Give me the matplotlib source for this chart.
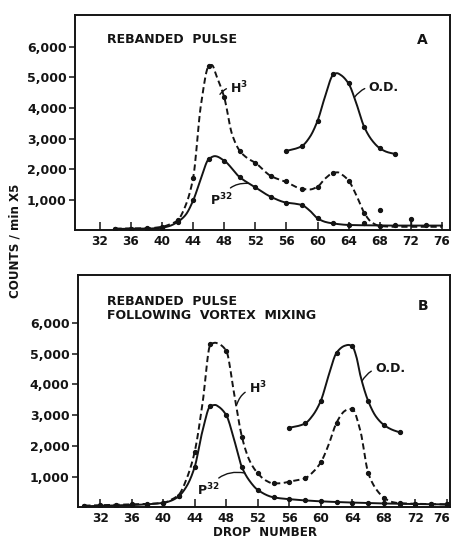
import numpy as np
import matplotlib
matplotlib.use("Agg")
import matplotlib.pyplot as plt
import matplotlib.transforms as mtransforms

plt.rcParams['font.family'] = ['DejaVu Sans']
plt.rcParams['font.weight'] = 'bold'
plt.rcParams['mathtext.default'] = 'bf'

INK = '#141414'

# ---- panel A: rebanded pulse ----
a_drops = [34, 36, 38, 40, 42, 44, 46, 48, 50, 52, 54, 56, 58, 60, 62, 64, 66]
a_h3 = [60, 60, 70, 120, 330, 1720, 5370, 4350, 2600, 2210, 1780, 1610, 1350, 1430, 1890, 1630, 580]
a_p32_drops = [34, 36, 38, 40, 42, 44, 46, 48, 50, 52, 54, 56, 58, 60, 62, 64, 66, 68, 70, 74]
a_p32 = [50, 50, 60, 90, 280, 980, 2330, 2280, 1740, 1410, 1100, 910, 830, 400, 230, 180, 230, 160, 170, 190]
a_od_drops = [56, 58, 60, 62, 64, 66, 68, 70]
a_od = [2600, 2760, 3580, 5110, 4810, 3390, 2690, 2500]
a_stray_drops = [68, 72]
a_stray = [660, 380]

# hand-drawn curves
a_h3_cx = [34, 38, 40, 41, 42, 43, 44, 45, 46, 46.4, 47, 48, 49, 50, 51, 52, 54, 56, 58, 59, 60, 61, 62, 62.6, 63, 64, 65, 66, 67, 68, 70, 76]
a_h3_cy = [60, 70, 120, 200, 330, 800, 1720, 4100, 5370, 5410, 5050, 4350, 3150, 2600, 2360, 2210, 1780, 1580, 1360, 1340, 1430, 1700, 1880, 1900, 1850, 1630, 1150, 580, 260, 150, 120, 120]
a_p32_cx = [34, 38, 40, 41, 42, 43, 44, 45, 46, 46.8, 48, 50, 52, 54, 56, 57, 58, 59, 60, 61, 62, 64, 66, 70, 76]
a_p32_cy = [50, 60, 90, 150, 280, 500, 980, 1700, 2330, 2430, 2280, 1740, 1410, 1100, 910, 880, 830, 650, 400, 280, 230, 180, 170, 160, 160]
a_od_cx = [56, 57, 58, 59, 60, 61, 62, 62.5, 63, 64, 65, 66, 67, 68, 69, 70]
a_od_cy = [2600, 2660, 2760, 3050, 3580, 4400, 5080, 5140, 5080, 4800, 4150, 3390, 2950, 2690, 2560, 2500]

# ---- panel B: after vortex mixing ----
b_drops = [30, 32, 34, 36, 38, 40, 42, 44, 46, 48, 50, 52, 54, 56, 58, 60, 62, 64, 66, 68, 70, 72, 74, 76]
b_h3 = [60, 80, 80, 100, 100, 150, 370, 1810, 5300, 5090, 2280, 1110, 780, 840, 950, 1470, 2760, 3190, 1130, 320, 140, 100, 100, 100]
b_p32 = [40, 60, 60, 80, 80, 150, 370, 1320, 3300, 3000, 1300, 570, 330, 275, 240, 220, 170, 160, 150, 130, 110, 100, 100, 100]
b_od_drops = [56, 58, 60, 62, 64, 66, 68, 70]
b_od = [2590, 2730, 3470, 5030, 5240, 3460, 2680, 2440]

b_h3_cx = [30, 36, 40, 41, 42, 43, 44, 45, 46, 46.6, 47, 48, 49, 50, 51, 52, 53, 54, 55, 56, 58, 59, 60, 61, 62, 63, 63.6, 64, 65, 66, 67, 68, 69, 70, 76]
b_h3_cy = [60, 100, 150, 250, 420, 950, 1810, 3400, 5300, 5350, 5320, 5090, 3700, 2280, 1500, 1110, 880, 780, 790, 840, 950, 1150, 1470, 2050, 2760, 3130, 3200, 3190, 2500, 1130, 600, 320, 180, 140, 100]
b_p32_cx = [30, 36, 40, 41, 42, 43, 44, 45, 46, 46.6, 47, 48, 49, 50, 51, 52, 54, 56, 60, 64, 70, 76]
b_p32_cy = [40, 80, 150, 220, 370, 700, 1320, 2500, 3300, 3330, 3280, 3000, 2200, 1300, 850, 570, 330, 270, 200, 160, 120, 100]
b_od_cx = [56, 57, 58, 59, 60, 61, 62, 63, 63.5, 64, 64.5, 65, 66, 67, 68, 69, 70]
b_od_cy = [2590, 2640, 2730, 3000, 3470, 4300, 5030, 5250, 5280, 5230, 4900, 4300, 3460, 2950, 2680, 2530, 2440]

x_ticks = list(range(32, 77, 4))
y_ticks = [1000, 2000, 3000, 4000, 5000, 6000]
y_ticklabels = ['1,000', '2,000', '3,000', '4,000', '5,000', '6,000']


def pchip(x, y, xs):
    # monotone cubic, only used to draw the hand-drawn curves smoothly
    x = np.asarray(x, float)
    y = np.asarray(y, float)
    h = np.diff(x)
    d = np.diff(y) / h
    m = np.zeros_like(y)
    m[0], m[-1] = d[0], d[-1]
    for k in range(1, len(x) - 1):
        if d[k - 1] * d[k] > 0:
            w1 = 2 * h[k] + h[k - 1]
            w2 = h[k] + 2 * h[k - 1]
            m[k] = (w1 + w2) / (w1 / d[k - 1] + w2 / d[k])
    i = np.clip(np.searchsorted(x, xs) - 1, 0, len(x) - 2)
    t = (xs - x[i]) / h[i]
    h00 = 2 * t**3 - 3 * t**2 + 1
    h10 = t**3 - 2 * t**2 + t
    h01 = -2 * t**3 + 3 * t**2
    h11 = t**3 - t**2
    return h00 * y[i] + h10 * h[i] * m[i] + h01 * y[i + 1] + h11 * h[i] * m[i + 1]


def curve(ax, cx, cy, dashed=False):
    xs = np.linspace(cx[0], cx[-1], 400)
    ls = (0, (3.2, 1.8)) if dashed else '-'
    ax.plot(xs, pchip(cx, cy, xs), color=INK, lw=1.4, ls=ls)


def dots(ax, x, y):
    ax.plot(x, y, 'o', color=INK, ms=2.8, ls='none')


def leader(ax, text, xy_text, xy_curve, rad=0.3):
    ax.annotate(text, xy=xy_curve, xytext=xy_text, fontsize=9, color=INK,
                ha='left', va='center', fontweight='bold',
                arrowprops=dict(arrowstyle='-', color=INK, lw=1.0,
                                shrinkA=1, shrinkB=0,
                                connectionstyle=f'arc3,rad={rad}'))


def style(ax, xlim, ylim):
    ax.set_xlim(*xlim)
    ax.set_ylim(*ylim)
    ax.set_xticks(x_ticks)
    ax.set_xticklabels([str(t) for t in x_ticks], fontsize=8.7, fontweight='bold')
    ax.set_yticks(y_ticks)
    ax.set_yticklabels(y_ticklabels, fontsize=9, fontweight='bold')
    ax.tick_params(axis='x', direction='in', length=6, width=1.1, pad=3, colors=INK)
    ax.tick_params(axis='y', direction='out', length=4, width=1.1, pad=2, colors=INK)
    for s in ax.spines.values():
        s.set_linewidth(1.4)
        s.set_color(INK)


fig = plt.figure(figsize=(4.52, 5.38), dpi=100)
ax_a = fig.add_axes([0.166, 0.5716, 0.8296, 0.4004])
ax_b = fig.add_axes([0.1726, 0.0567, 0.823, 0.4321])

# panel A
curve(ax_a, a_h3_cx, a_h3_cy, dashed=True)
curve(ax_a, a_p32_cx, a_p32_cy)
curve(ax_a, a_od_cx, a_od_cy)
dots(ax_a, a_drops, a_h3)
dots(ax_a, a_p32_drops, a_p32)
dots(ax_a, a_od_drops, a_od)
dots(ax_a, a_stray_drops, a_stray)
ax_a.vlines(a_stray_drops[1], 180, a_stray[1], color=INK, lw=1.0)
style(ax_a, (28.8, 77.05), (0, 7040))
ax_a.text(32.9, 6230, 'REBANDED  PULSE', fontsize=9, fontweight='bold', color=INK, va='center')
ax_a.text(72.8, 6230, 'A', fontsize=10, fontweight='bold', color=INK, va='center')
leader(ax_a, 'H$^{3}$', (48.8, 4650), (47.45, 4450), rad=0.35)
leader(ax_a, 'O.D.', (66.6, 4660), (64.75, 4350), rad=0.35)
leader(ax_a, 'P$^{32}$', (46.2, 1000), (51.0, 1540), rad=-0.35)

# panel B
curve(ax_b, b_h3_cx, b_h3_cy, dashed=True)
curve(ax_b, b_p32_cx, b_p32_cy)
curve(ax_b, b_od_cx, b_od_cy)
dots(ax_b, b_drops, b_h3)
dots(ax_b, b_drops, b_p32)
dots(ax_b, b_od_drops, b_od)
style(ax_b, (29.2, 76.38), (0, 7550))
# last tick label sits at the right edge; nudge it inward a little
last = ax_b.get_xticklabels()[-1]
last.set_transform(last.get_transform() +
                   mtransforms.ScaledTranslation(-4 / 72, 0, fig.dpi_scale_trans))
ax_b.text(32.9, 6700, 'REBANDED  PULSE', fontsize=9, fontweight='bold', color=INK, va='center')
ax_b.text(32.9, 6240, 'FOLLOWING  VORTEX  MIXING', fontsize=9, fontweight='bold', color=INK, va='center')
ax_b.text(72.3, 6540, 'B', fontsize=10, fontweight='bold', color=INK, va='center')
leader(ax_b, 'H$^{3}$', (50.9, 3870), (49.35, 3350), rad=0.35)
leader(ax_b, 'O.D.', (66.9, 4520), (65.2, 4100), rad=0.35)
leader(ax_b, 'P$^{32}$', (44.3, 570), (50.35, 1120), rad=-0.35)

fig.text(0.586, 0.011, 'DROP  NUMBER', fontsize=8.6, fontweight='bold', color=INK, ha='center', va='center')
fig.text(0.033, 0.552, 'COUNTS / min X5', fontsize=8.6, fontweight='bold', color=INK,
         rotation=90, ha='center', va='center')

fig.savefig('out.png', dpi=100)
